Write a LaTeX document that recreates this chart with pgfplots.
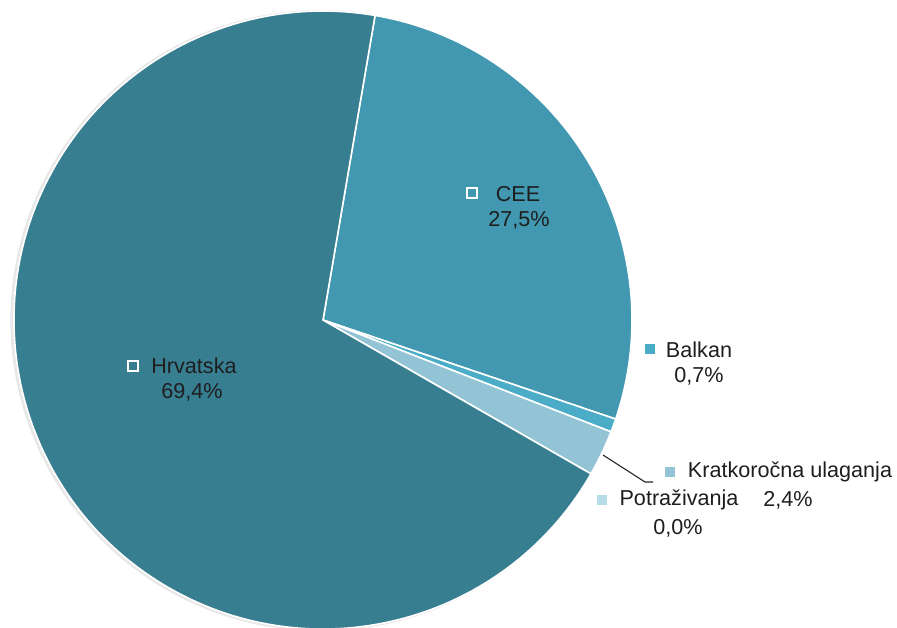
\documentclass[border=0pt]{standalone}
\usepackage{pgfplots}
\pgfplotsset{compat=1.18}
\usepackage{fontspec}
\setmainfont{Liberation Sans}
\definecolor{cHr}{RGB}{56,126,145}
\definecolor{cCEE}{RGB}{66,152,176}
\definecolor{cBal}{RGB}{74,172,198}
\definecolor{cKra}{RGB}{147,196,213}
\definecolor{cPot}{RGB}{183,222,232}
\definecolor{txt}{RGB}{30,30,30}
\begin{document}
\begin{tikzpicture}
% data (percent)
\def\vCEE{27.5}
\def\vBal{0.7}
\def\vKra{2.4}
\def\vPot{0.0}
\def\vHr{69.4}
\pgfmathsetmacro\aA{80.3}
\pgfmathsetmacro\aB{\aA-3.6*\vCEE}
\pgfmathsetmacro\aC{\aB-3.6*\vBal}
\pgfmathsetmacro\aD{\aC-3.6*\vKra}
\pgfmathsetmacro\aE{\aD-3.6*\vPot}
\pgfmathsetmacro\aF{\aE-3.6*\vHr}
\def\R{154.5pt}
\begin{axis}[at={(0,0)},anchor=south west,scale only axis,
  width=448.5pt,height=313.5pt,xmin=0,xmax=897,ymin=0,ymax=627,
  y dir=reverse,hide axis,clip=true]
\fill[black!9] (axis cs:321,320.5) circle[radius=155.3pt];
\fill[cCEE,draw=white,line width=0.8pt] (axis cs:323,320) -- ++(\aA:\R) arc[start angle=\aA,end angle=\aB,radius=\R] -- cycle;
\fill[cBal,draw=white,line width=0.8pt] (axis cs:323,320) -- ++(\aB:\R) arc[start angle=\aB,end angle=\aC,radius=\R] -- cycle;
\fill[cKra,draw=white,line width=0.8pt] (axis cs:323,320) -- ++(\aC:\R) arc[start angle=\aC,end angle=\aD,radius=\R] -- cycle;
\fill[cHr,draw=white,line width=0.8pt] (axis cs:323,320) -- ++(\aE:\R) arc[start angle=\aE,end angle=\aF,radius=\R] -- cycle;
% leader line
\draw[black!85,line width=0.55pt] (axis cs:603,455) -- (axis cs:645,482) -- (axis cs:653,482);
% labels
\tikzset{lab/.style={font=\fontsize{10.8}{13}\selectfont,text=txt,inner sep=0pt},
  sq/.style={minimum size=5pt,inner sep=0pt,line width=0.6pt}}
\node[sq,draw=white,fill=cCEE] at (axis cs:472,193) {};
\node[lab] at (axis cs:518,194) {CEE};
\node[lab] at (axis cs:519,220) {27,5\%};
\node[sq,draw=white,fill=cHr] at (axis cs:133,366) {};
\node[lab] at (axis cs:194,366) {Hrvatska};
\node[lab] at (axis cs:192,392) {69,4\%};
\node[sq,fill=cBal] at (axis cs:650,349) {};
\node[lab] at (axis cs:699,350) {Balkan};
\node[lab] at (axis cs:699,376) {0,7\%};
\node[sq,fill=cKra] at (axis cs:670,472) {};
\node[lab] at (axis cs:790,472) {Kratkoročna ulaganja};
\node[lab] at (axis cs:788,500) {2,4\%};
\node[sq,fill=cPot] at (axis cs:602,500) {};
\node[lab] at (axis cs:679,500) {Potraživanja};
\node[lab] at (axis cs:678,528) {0,0\%};
\end{axis}
\pgfresetboundingbox
\useasboundingbox (0,0) rectangle (448.5pt,313.5pt);
\end{tikzpicture}
\end{document}
